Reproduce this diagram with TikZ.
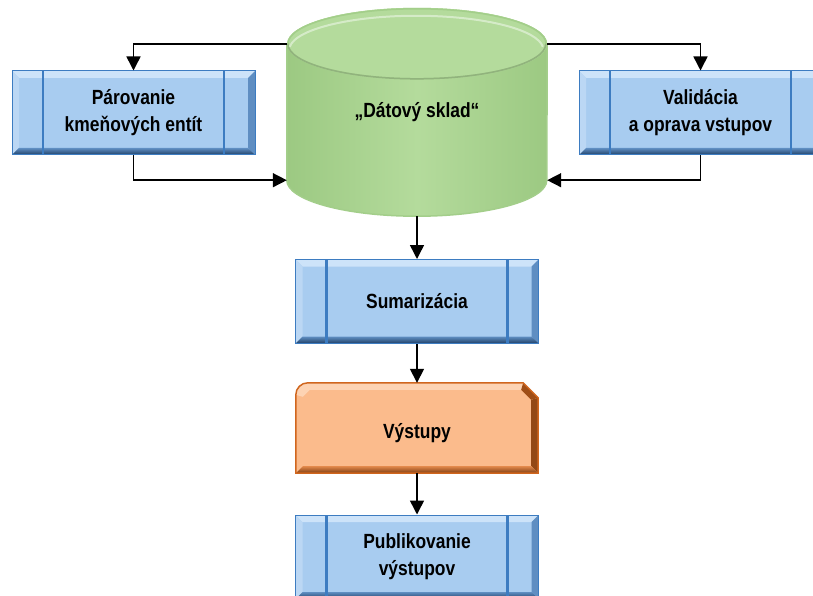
\documentclass[tikz,border=0pt]{standalone}
\usepackage{fontspec}
\newfontfamily\labfont{Liberation Sans}[FakeStretch=0.85]
\usetikzlibrary{arrows.meta,backgrounds,calc}
\definecolor{boxblue}{HTML}{A8CCF0}
\definecolor{boxedge}{HTML}{3D7CC1}
\definecolor{bevlight}{HTML}{CDE3F9}
\definecolor{bevleft}{HTML}{BBD7F4}
\definecolor{bevright}{HTML}{5F8EC2}
\definecolor{bevdark}{HTML}{1F3F66}
\definecolor{cylgreen}{HTML}{B4DB9C}
\definecolor{cyldark}{HTML}{9CC982}
\definecolor{cyledge}{HTML}{A3CE8A}
\definecolor{orfill}{HTML}{FBBB8C}
\definecolor{oredge}{HTML}{D0661E}
\definecolor{ordark}{HTML}{7E3E12}
\definecolor{orlight}{HTML}{FDD3B3}
\begin{document}
\begin{tikzpicture}[x=1pt,y=-1pt,
  lbl/.style={font=\labfont\bfseries\fontsize{20.5}{27}\selectfont, align=center, text=black},
  procbox/.style={lbl, rectangle, minimum width=243pt, minimum height=84pt, inner sep=0pt,
    fill=boxblue, draw=boxedge, line width=1pt,
    path picture={
      \fill[bevlight] (path picture bounding box.north west) -- (path picture bounding box.north east)
        -- ([xshift=-7pt,yshift=-7pt]path picture bounding box.north east)
        -- ([xshift=7pt,yshift=-7pt]path picture bounding box.north west) -- cycle;
      \fill[bevleft] (path picture bounding box.north west) -- (path picture bounding box.south west)
        -- ([xshift=7pt,yshift=7pt]path picture bounding box.south west)
        -- ([xshift=7pt,yshift=-7pt]path picture bounding box.north west) -- cycle;
      \fill[bevright] (path picture bounding box.north east) -- (path picture bounding box.south east)
        -- ([xshift=-7pt,yshift=7pt]path picture bounding box.south east)
        -- ([xshift=-7pt,yshift=-7pt]path picture bounding box.north east) -- cycle;
      \shade[top color=bevright, bottom color=bevdark] (path picture bounding box.south west) -- (path picture bounding box.south east)
        -- ([xshift=-7pt,yshift=7pt]path picture bounding box.south east)
        -- ([xshift=7pt,yshift=7pt]path picture bounding box.south west) -- cycle;
      \draw[boxedge, line width=2.5pt] ([xshift=31pt]path picture bounding box.north west) -- ([xshift=31pt]path picture bounding box.south west);
      \draw[boxedge, line width=2.5pt] ([xshift=-31pt]path picture bounding box.north east) -- ([xshift=-31pt]path picture bounding box.south east);
    }},
  conn/.style={line width=1.5pt, -{Triangle[width=14pt,length=14pt]}}
]
\useasboundingbox (0,0) rectangle (813,596);

% nodes
\node[procbox] (par) at (133.5,113) {Párovanie\\kmeňových entít};
\node[procbox] (val) at (700.5,113) {Validácia\\a oprava vstupov};
\node[lbl, minimum width=260pt, minimum height=136pt, inner sep=0pt] (ds) at (417,112) {„Dátový sklad“};
\node[procbox] (sum) at (417,301.5) {Sumarizácia};
\node[lbl, minimum width=242pt, minimum height=90pt, inner sep=0pt, text depth=0pt] (vys) at (417,428) {\raisebox{-5pt}{Výstupy}};
\node[procbox] (pub) at (417,557) {Publikovanie\\výstupov};
\coordinate (dsb) at ($(ds.south)+(0,36)$);

\begin{scope}[on background layer]
  \fill[white] (0,0) rectangle (813,596);
  % cylinder
  \shade[left color=cyldark, right color=cyldark, middle color=cylgreen]
    (ds.north west) -- (ds.south west)
    arc[start angle=180, end angle=360, x radius=130pt, y radius=36pt]
    -- (ds.north east) arc[start angle=0, end angle=180, x radius=130pt, y radius=36pt] -- cycle;
  \draw[cyledge, line width=1.5pt]
    (ds.north west) -- (ds.south west)
    arc[start angle=180, end angle=360, x radius=130pt, y radius=36pt]
    -- (ds.north east);
  \fill[cylgreen] (ds.north) ellipse[x radius=130pt, y radius=36pt];
  \draw[cyledge, line width=1.5pt] (ds.north) ellipse[x radius=129pt, y radius=35pt];
  \draw[cyldark!85!black!90, line width=1.5pt] ([xshift=1pt]ds.north west)
    arc[start angle=180, end angle=360, x radius=129pt, y radius=35pt];
  \draw[white, opacity=0.45, line width=2pt] ([xshift=3pt,yshift=-3pt]ds.north west)
    arc[start angle=175, end angle=5, x radius=127pt, y radius=34pt];
  % Vystupy shape
  \fill[orfill] (vys.south west) -- ([yshift=-12pt]vys.north west)
    arc[start angle=180, end angle=90, radius=12pt]
    -- ([xshift=-15pt]vys.north east) -- ([yshift=-15pt]vys.north east) -- (vys.south east) -- cycle;
  \fill[orlight] ([yshift=-12pt]vys.north west) arc[start angle=180, end angle=90, radius=12pt]
    -- ([xshift=-15pt]vys.north east) -- ([xshift=-17pt,yshift=-7pt]vys.north east)
    -- ([xshift=14pt,yshift=-7pt]vys.north west) -- ([xshift=7pt,yshift=-14pt]vys.north west) -- cycle;
  \fill[ordark!75!oredge] ([yshift=-15pt]vys.north east) -- (vys.south east)
    -- ([xshift=-7pt,yshift=7pt]vys.south east) -- ([xshift=-7pt,yshift=-17pt]vys.north east) -- cycle;
  \fill[ordark!60!oredge] ([xshift=-15pt]vys.north east) -- ([yshift=-15pt]vys.north east)
    -- ([xshift=-7pt,yshift=-17pt]vys.north east) -- ([xshift=-17pt,yshift=-7pt]vys.north east) -- cycle;
  \shade[top color=oredge!60!orfill, bottom color=ordark] (vys.south west) -- (vys.south east)
    -- ([xshift=-7pt,yshift=7pt]vys.south east) -- ([xshift=7pt,yshift=7pt]vys.south west) -- cycle;
  \draw[oredge, line width=1.5pt] (vys.south west) -- ([yshift=-12pt]vys.north west)
    arc[start angle=180, end angle=90, radius=12pt]
    -- ([xshift=-15pt]vys.north east) -- ([yshift=-15pt]vys.north east) -- (vys.south east) -- cycle;
\end{scope}

% connectors
\draw[conn] (ds.north west) -| (par.north);
\draw[conn] (par.south) |- (ds.south west);
\draw[conn] (ds.north east) -| (val.north);
\draw[conn] (val.south) |- (ds.south east);
\draw[conn] (dsb) -- (sum.north);
\draw[conn] (sum.south) -- (vys.north);
\draw[conn] (vys.south) -- (pub.north);
\end{tikzpicture}
\end{document}
